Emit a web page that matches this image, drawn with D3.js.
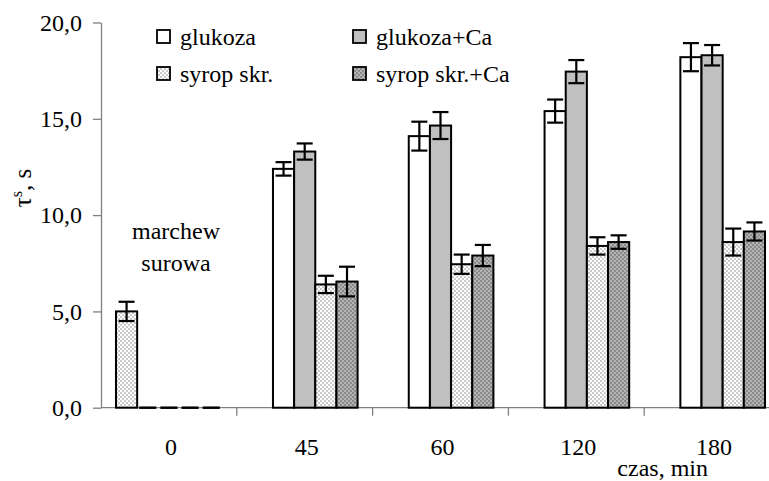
<!DOCTYPE html>
<html>
<head>
<meta charset="utf-8">
<script src="https://cdn.jsdelivr.net/npm/d3@7"></script>
<style>
  html, body { margin: 0; padding: 0; background: #fff; }
  svg { display: block; }
  text { font-family: "Liberation Serif", "DejaVu Serif", serif; fill: #000; }
</style>
</head>
<body>
<script>
// time groups on the x axis
const categories = ['0', '45', '60', '120', '180'];
// series, in slot order inside each group
const seriesNames = ['marchew surowa', 'glukoza', 'glukoza+Ca', 'syrop skr.', 'syrop skr.+Ca'];
// values (tau^s, s) per group; null = no bar
const marchew = [5.0, null, null, null, null];
const glukoza = [0, 12.4, 14.1, 15.4, 18.2];
const glukozaCa = [0, 13.3, 14.65, 17.45, 18.3];
const syrop = [0, 6.4, 7.45, 8.4, 8.6];
const syropCa = [0, 6.55, 7.9, 8.6, 9.15];
// error half-widths
const marchewErr = [0.5, null, null, null, null];
const glukozaErr = [null, 0.35, 0.75, 0.6, 0.73];
const glukozaCaErr = [null, 0.42, 0.7, 0.6, 0.53];
const syropErr = [null, 0.45, 0.5, 0.45, 0.7];
const syropCaErr = [null, 0.77, 0.55, 0.35, 0.47];
const yTicks = [0, 5, 10, 15, 20];

const width = 769, height = 481;
const values = [marchew, glukoza, glukozaCa, syrop, syropCa];
const errs = [marchewErr, glukozaErr, glukozaCaErr, syropErr, syropCaErr];

const svg = d3.select('body').append('svg')
  .attr('width', width).attr('height', height);

// fill patterns
const defs = svg.append('defs');
function checker(id, bg, fg) {
  const p = defs.append('pattern').attr('id', id)
    .attr('patternUnits', 'userSpaceOnUse').attr('width', 4).attr('height', 4);
  p.append('rect').attr('width', 4).attr('height', 4).attr('fill', bg);
  p.append('rect').attr('width', 2).attr('height', 2).attr('fill', fg);
  p.append('rect').attr('x', 2).attr('y', 2).attr('width', 2).attr('height', 2).attr('fill', fg);
}
checker('lightDots', '#ffffff', '#cacaca');
checker('darkDots', '#b4b4b4', '#8a8a8a');

const fills = ['url(#lightDots)', '#ffffff', '#c0c0c0', 'url(#lightDots)', 'url(#darkDots)'];

const x0 = d3.scaleBand().domain(categories).range([101, 780])
  .paddingInner(0.221).paddingOuter(0.1105);
const x1 = d3.scaleBand().domain(seriesNames).range([0, x0.bandwidth()]);
const y = d3.scaleLinear().domain([0, 20]).range([407.7, 22.5]);

// y axis
const gy = svg.append('g').attr('transform', 'translate(101,0)')
  .call(d3.axisLeft(y).tickValues(yTicks).tickSize(8).tickSizeOuter(0)
    .tickFormat(d => d3.format('.1f')(d).replace('.', ',')));
gy.select('.domain').attr('stroke', '#808080').attr('stroke-width', 1.3);
gy.selectAll('.tick line').attr('stroke', '#808080').attr('stroke-width', 1.3);
gy.selectAll('.tick text').attr('font-size', 24).attr('x', -19)
  .attr('font-family', '"Liberation Serif", serif').attr('fill', '#000');

// x axis line and boundary ticks
const xAxisY = y(0);
svg.append('line').attr('x1', 101).attr('x2', width).attr('y1', xAxisY).attr('y2', xAxisY)
  .attr('stroke', '#808080').attr('stroke-width', 1.3);
const boundaries = categories.slice(1).map(c => x0(c) - x0.step() * x0.paddingInner() / 2);
svg.selectAll('.xtick').data(boundaries).enter().append('line')
  .attr('x1', d => d).attr('x2', d => d)
  .attr('y1', xAxisY).attr('y2', xAxisY + 8)
  .attr('stroke', '#808080').attr('stroke-width', 1.3);
svg.selectAll('.xlabel').data(categories).enter().append('text')
  .attr('x', d => x0(d) + x0.bandwidth() / 2 + 2)
  .attr('y', 455).attr('text-anchor', 'middle').attr('font-size', 24)
  .text(d => d);

// bars
const flat = [];
categories.forEach((c, i) => {
  seriesNames.forEach((s, j) => {
    if (values[j][i] !== null) flat.push({ c, s, j, v: values[j][i], e: errs[j][i] });
  });
});

const bars = flat.filter(d => d.v > 0);
svg.selectAll('.bar').data(bars).enter().append('rect')
  .attr('x', d => x0(d.c) + x1(d.s))
  .attr('y', d => y(d.v))
  .attr('width', x1.bandwidth())
  .attr('height', d => y(0) - y(d.v))
  .attr('fill', d => fills[d.j])
  .attr('stroke', '#000').attr('stroke-width', 2);

// zero-height bars drawn as short baseline dashes
svg.selectAll('.zero').data(flat.filter(d => d.v === 0)).enter().append('line')
  .attr('x1', d => x0(d.c) + x1(d.s) + 2)
  .attr('x2', d => x0(d.c) + x1(d.s) + x1.bandwidth() - 2)
  .attr('y1', y(0)).attr('y2', y(0))
  .attr('stroke', '#000').attr('stroke-width', 2.5);

// error bars
const withErr = bars.filter(d => d.e !== null);
const eg = svg.append('g').attr('stroke', '#000').attr('stroke-width', 2.2);
const cx = d => x0(d.c) + x1(d.s) + x1.bandwidth() / 2;
eg.selectAll('.ev').data(withErr).enter().append('line')
  .attr('x1', cx).attr('x2', cx)
  .attr('y1', d => y(d.v + d.e)).attr('y2', d => y(d.v - d.e));
eg.selectAll('.et').data(withErr).enter().append('line')
  .attr('x1', d => cx(d) - 8).attr('x2', d => cx(d) + 8)
  .attr('y1', d => y(d.v + d.e)).attr('y2', d => y(d.v + d.e));
eg.selectAll('.eb').data(withErr).enter().append('line')
  .attr('x1', d => cx(d) - 8).attr('x2', d => cx(d) + 8)
  .attr('y1', d => y(d.v - d.e)).attr('y2', d => y(d.v - d.e));

// legend (4 series, 2 columns)
const legendItems = [
  { j: 1, x: 157, y: 30 }, { j: 2, x: 353, y: 30 },
  { j: 3, x: 157, y: 67 }, { j: 4, x: 353, y: 67 },
];
const lg = svg.append('g');
legendItems.forEach(it => {
  lg.append('rect').attr('x', it.x).attr('y', it.y).attr('width', 13).attr('height', 13)
    .attr('fill', fills[it.j]).attr('stroke', '#000').attr('stroke-width', 1.8);
  lg.append('text').attr('x', it.x + 23).attr('y', it.y + 15)
    .attr('font-size', 24).text(seriesNames[it.j]);
});

// annotation for raw carrot
const ann = svg.append('text').attr('text-anchor', 'middle').attr('font-size', 24);
ann.append('tspan').attr('x', 176).attr('y', 239).text('marchew');
ann.append('tspan').attr('x', 176).attr('y', 271).text('surowa');

// axis titles
svg.append('text').attr('transform', 'translate(31,188) rotate(-90)')
  .attr('text-anchor', 'middle').attr('font-size', 25)
  .html('τ<tspan dy="-9" font-size="16">s</tspan><tspan dy="9">, s</tspan>');
svg.append('text').attr('x', 708).attr('y', 476).attr('text-anchor', 'end')
  .attr('font-size', 24).text('czas, min');
</script>
</body>
</html>
